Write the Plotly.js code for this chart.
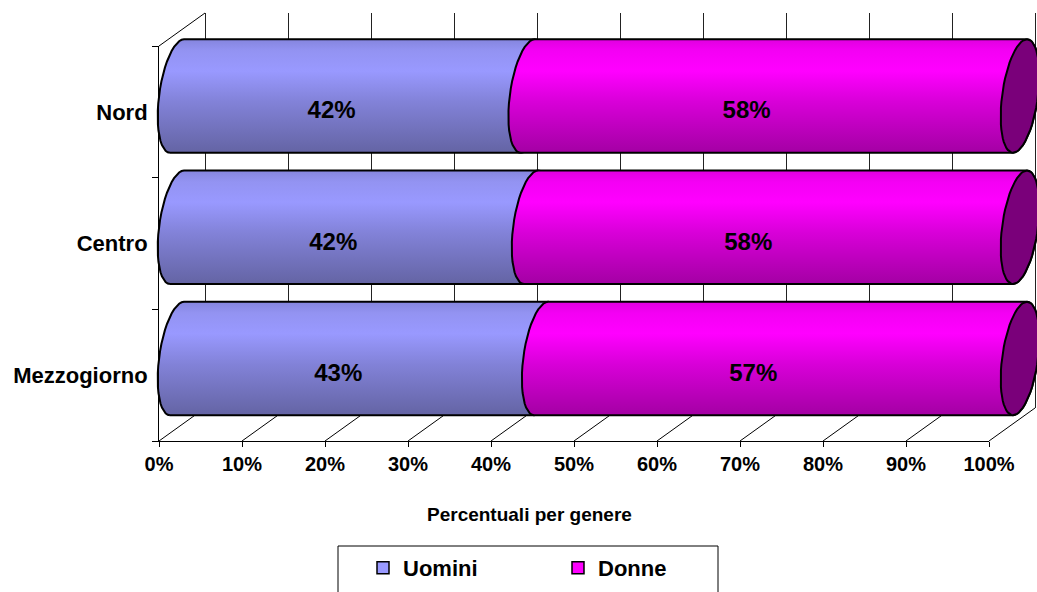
<!DOCTYPE html>
<html>
<head>
<meta charset="utf-8">
<script src="https://cdn.plot.ly/plotly-3.0.1.min.js"></script>
<style>html,body{margin:0;padding:0;background:#fff;}#chart{width:1037px;height:592px;}</style>
</head>
<body>
<div id="chart"></div>
<script>
// ---- data ----
const categories = ['Nord', 'Centro', 'Mezzogiorno'];
const seriesNames = ['Uomini', 'Donne'];
const uomini = [41.6, 42.0, 43.2];
const donne = [58.4, 58.0, 56.8];
const xTickVals = [0, 10, 20, 30, 40, 50, 60, 70, 80, 90, 100];
const xTickLabels = ['0%', '10%', '20%', '30%', '40%', '50%', '60%', '70%', '80%', '90%', '100%'];
const axisTitle = 'Percentuali per genere';

// ---- layout geometry (pixels) ----
const W = 1037, H = 592;
const fx = p => p / W, fy = p => 1 - p / H;
const FONT = 'Liberation Sans, Arial, sans-serif';

// bar plane
const bar0 = 177, bar100 = 1020;
const kx = (bar100 - bar0) / 100;
const rowPx = 131.25, row0Py = 358.5;
const halfH = 0.432;
const rx = 18 / kx, sh = 7 / kx;

// front plane
const front0 = 159, front100 = 989, frontTop = 46, frontBot = 441;
// back wall
const back0 = 205, backTop = 13, backBot = 408;
const kFront = (front100 - front0) / 100;

const seriesVals = [uomini, donne];
const gradU = [[0, '#6464a4'], [0.45, '#8282d8'], [0.72, '#9999ff'], [0.9, '#9393f2'], [1, '#8585de']];
const gradD = [[0, '#a400a4'], [0.45, '#d800d8'], [0.72, '#ff00ff'], [0.9, '#f400f4'], [1, '#e000e0']];
const grads = [gradU, gradD];
const legendColors = ['#9999ff', '#ff00ff'];

function segment(a, b, c) {
  const xs = [], ys = [], n = 24;
  for (let i = 0; i <= n; i++) {
    const t = Math.PI - Math.PI * i / n;
    xs.push(a + sh * Math.cos(t) - rx * Math.sin(t));
    ys.push(c + halfH * Math.cos(t));
  }
  for (let i = 0; i <= n; i++) {
    const t = Math.PI * i / n;
    xs.push(b + sh * Math.cos(t) + rx * Math.sin(t));
    ys.push(c + halfH * Math.cos(t));
  }
  xs.push(xs[0]); ys.push(ys[0]);
  return {xs, ys};
}
function ellipse(b, c) {
  const xs = [], ys = [], n = 60;
  for (let i = 0; i <= n; i++) {
    const t = 2 * Math.PI * i / n;
    xs.push(b + sh * Math.cos(t) + rx * Math.sin(t));
    ys.push(c + halfH * Math.cos(t));
  }
  return {xs, ys};
}

const traces = [];
traces.push({type: 'scatter', x: [null], y: [null], xaxis: 'x', yaxis: 'y', showlegend: false, hoverinfo: 'skip'});

categories.forEach((cat, i) => {
  const c = categories.length - 1 - i;
  let cum = 0;
  seriesVals.forEach((vals, s) => {
    const a = cum, b = cum + vals[i];
    const g = segment(a, b, c);
    traces.push({
      type: 'scatter', mode: 'lines', x: g.xs, y: g.ys, xaxis: 'x2', yaxis: 'y2',
      fill: 'toself', fillcolor: legendColors[s],
      fillgradient: {type: 'vertical', colorscale: grads[s]},
      line: {color: '#000', width: 2}, showlegend: false, hoverinfo: 'skip'
    });
    cum = b;
  });
  const e = ellipse(cum, c);
  traces.push({
    type: 'scatter', mode: 'lines', x: e.xs, y: e.ys, xaxis: 'x2', yaxis: 'y2',
    fill: 'toself', fillcolor: '#7a007a', line: {color: '#000', width: 2},
    showlegend: false, hoverinfo: 'skip'
  });
});

seriesNames.forEach((nm, s) => {
  traces.push({
    type: 'bar', orientation: 'h', name: nm, x: [null], y: [null], xaxis: 'x2', yaxis: 'y2',
    marker: {color: legendColors[s], line: {color: '#000', width: 1.5}}, hoverinfo: 'skip'
  });
});

seriesVals.forEach((vals, s) => {
  const xs = [], txt = [];
  vals.forEach((v, i) => {
    let start = 0;
    for (let k = 0; k < s; k++) start += seriesVals[k][i];
    xs.push(start + v / 2);
    txt.push(Math.round(v) + '%');
  });
  traces.push({
    type: 'scatter', mode: 'text', x: xs, y: categories, text: txt, xaxis: 'x3', yaxis: 'y3',
    textfont: {family: FONT, size: 24, color: '#000', weight: 'bold'},
    showlegend: false, hoverinfo: 'skip'
  });
});

const shapes = [];
xTickVals.forEach(v => {
  const xf = front0 + v * kFront, xb = back0 + v * kFront;
  shapes.push({type: 'line', xref: 'paper', yref: 'paper', layer: 'below',
    x0: fx(xf), y0: fy(frontBot), x1: fx(xb), y1: fy(backBot), line: {color: '#000', width: 1}});
});
shapes.push({type: 'line', xref: 'paper', yref: 'paper', layer: 'below',
  x0: fx(front0), y0: fy(frontTop), x1: fx(back0), y1: fy(backTop), line: {color: '#000', width: 1}});
shapes.push({type: 'rect', xref: 'paper', yref: 'paper', layer: 'below',
  x0: fx(338), y0: fy(600), x1: fx(718), y1: fy(546), line: {color: '#000', width: 1}, fillcolor: 'rgba(0,0,0,0)'});

const layout = {
  width: W, height: H,
  margin: {l: 0, r: 0, t: 0, b: 0, pad: 0},
  paper_bgcolor: '#fff', plot_bgcolor: 'rgba(0,0,0,0)',
  hovermode: false,
  font: {family: FONT, color: '#000'},
  xaxis: {domain: [fx(back0), 1], range: [0, (W - back0) / kFront], anchor: 'y',
    tickmode: 'array', tickvals: xTickVals, showticklabels: false, ticks: '',
    showgrid: true, gridcolor: '#222', gridwidth: 1, zeroline: true, zerolinecolor: '#222', zerolinewidth: 1,
    showline: false, fixedrange: true},
  yaxis: {domain: [fy(backBot), fy(backTop)], range: [0, 1], anchor: 'x', visible: false, fixedrange: true},
  xaxis2: {domain: [0, 1], range: [(0 - bar0) / kx, (W - bar0) / kx], anchor: 'y2', visible: false, fixedrange: true},
  yaxis2: {domain: [0, 1], range: [(row0Py - H) / rowPx, row0Py / rowPx], anchor: 'x2', visible: false, fixedrange: true},
  xaxis3: {domain: [fx(front0), fx(front100)], range: [0, 100], anchor: 'y3',
    tickmode: 'array', tickvals: xTickVals, ticktext: xTickLabels,
    ticks: 'outside', ticklen: 5, tickcolor: '#000', tickwidth: 1,
    showline: true, linecolor: '#000', linewidth: 1, showgrid: false, zeroline: false,
    tickfont: {family: FONT, size: 20, color: '#000', weight: 'bold'}, fixedrange: true},
  yaxis3: {domain: [fy(frontBot), fy(frontTop)], type: 'category',
    categoryorder: 'array', categoryarray: categories.slice().reverse(), range: [-0.5, 2.5],
    anchor: 'x3', ticks: 'outside', tickson: 'boundaries', ticklen: 6, tickcolor: '#000',
    ticklabelstandoff: 6,
    showline: true, linecolor: '#000', linewidth: 1, showgrid: false, zeroline: false,
    tickfont: {family: FONT, size: 22, color: '#000', weight: 'bold'}, fixedrange: true},
  shapes: shapes,
  annotations: [{text: axisTitle, xref: 'paper', yref: 'paper', x: fx(529), y: fy(514),
    showarrow: false, xanchor: 'center', yanchor: 'middle',
    font: {family: FONT, size: 19, color: '#000', weight: 'bold'}}],
  showlegend: true,
  legend: {orientation: 'h', x: fx(363), xanchor: 'left', y: fy(568), yanchor: 'middle',
    bgcolor: 'rgba(0,0,0,0)', borderwidth: 0, entrywidth: 150, entrywidthmode: 'pixels',
    font: {family: FONT, size: 22, color: '#000', weight: 'bold'}}
};

Plotly.newPlot('chart', traces, layout, {displayModeBar: false, staticPlot: true});
</script>
</body>
</html>
